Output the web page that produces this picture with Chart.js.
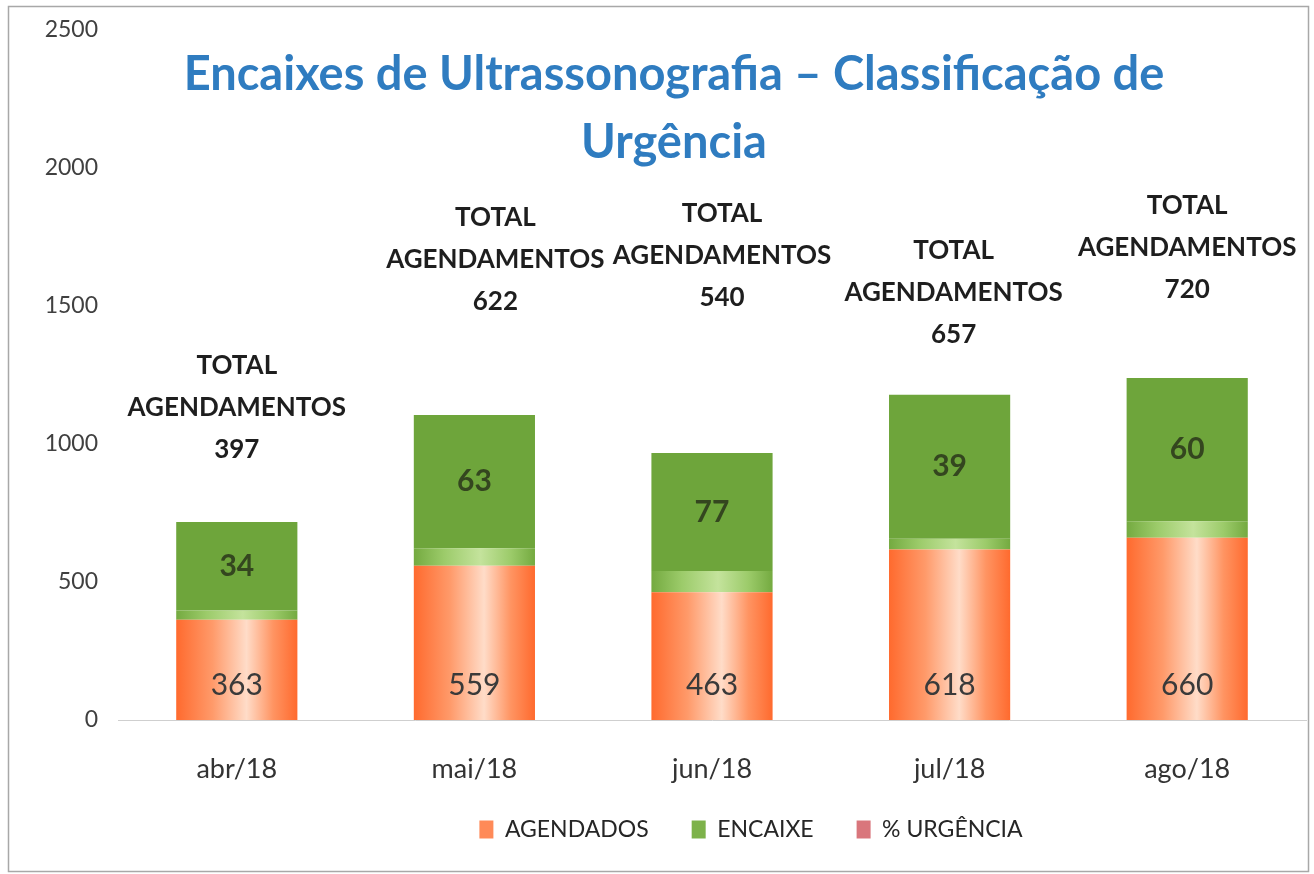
<!DOCTYPE html>
<html>
<head>
<meta charset="utf-8">
<script src="https://cdn.jsdelivr.net/npm/chart.js@4"></script>
<style>
  html, body { margin: 0; padding: 0; background: #fff; }
  #wrap { width: 1314px; height: 874px; }
</style>
</head>
<body>
<div id="wrap"><canvas id="ultra-chart"></canvas></div>
<script>
// data
const months = ["abr/18", "mai/18", "jun/18", "jul/18", "ago/18"];
const agendados = [363, 559, 463, 618, 660];
const encaixe = [34, 63, 77, 39, 60];
const urgencia = [320, 483, 427, 521, 519];   // upper green block
const yTicks = [0, 500, 1000, 1500, 2000, 2500];

// layout of the "TOTAL AGENDAMENTOS" labels (px above bar top, px sideways)
const totalGap = [72, 113, 155, 60, 88];
const totalShift = [0, 21, 10, 4, 0];

const BAR_PCT = 0.51;
const FONT = "Lato, 'Open Sans', sans-serif";

function barGradient(stops, solid) {
    return function (c) {
        if (c.type !== "data") return solid;
        const xs = c.chart.scales.x;
        if (!xs || !xs.width) return solid;
        const x = xs.getPixelForValue(c.dataIndex);
        const w = xs.width / months.length * BAR_PCT;
        const g = c.chart.ctx.createLinearGradient(x - w / 2, 0, x + w / 2, 0);
        stops.forEach(s => g.addColorStop(s[0], s[1]));
        return g;
    };
}

const orangeFill = barGradient([
    [0, "#ff6a2e"], [0.3, "#ff9a6a"], [0.58, "#ffdcc8"], [0.8, "#ff9462"], [1, "#ff6a2e"]
], "#ff7a40");
const bandFill = barGradient([
    [0, "#74aa40"], [0.25, "#9ccb6a"], [0.55, "#c4e39c"], [0.8, "#9ccb6a"], [1, "#74aa40"]
], "#8fc15a");

const swatches = ["#ff8a58", "#7db24a", "#d9767c"];

const labelsPlugin = {
    id: "labels",
    afterLayout(chart) {
        // legend in the original sits right of centre and a bit higher
        const lg = chart.legend;
        lg.left += 94;
        lg.right += 94;
        lg.top -= 13;
        lg.bottom -= 13;
    },
    beforeDraw(chart) {
        const ctx = chart.ctx;
        ctx.save();
        ctx.fillStyle = "#fff";
        ctx.fillRect(0, 0, chart.width, chart.height);
        ctx.strokeStyle = "#a8a8a8";
        ctx.lineWidth = 1.5;
        ctx.strokeRect(8.5, 6.5, 1300, 865);
        ctx.restore();
    },
    afterDatasetsDraw(chart) {
        const ctx = chart.ctx;
        const base = chart.getDatasetMeta(0).data;
        const top = chart.getDatasetMeta(2).data;
        ctx.save();
        ctx.textAlign = "center";
        ctx.textBaseline = "middle";
        base.forEach((el, i) => {
            ctx.font = "30px " + FONT;
            ctx.fillStyle = "#3a3a3a";
            ctx.fillText(agendados[i], el.x, el.base - 35);

            const t = top[i];
            ctx.font = "bold 30px " + FONT;
            ctx.fillStyle = "#34461f";
            ctx.fillText(encaixe[i], t.x, (t.y + t.base) / 2);

            const total = agendados[i] + encaixe[i];
            const cx = t.x + totalShift[i];
            const y3 = t.y - totalGap[i];
            ctx.font = "bold 26px " + FONT;
            ctx.fillStyle = "#1e1e1e";
            ctx.fillText("TOTAL", cx, y3 - 84);
            ctx.fillText("AGENDAMENTOS", cx, y3 - 42);
            ctx.fillText(total, cx, y3);
        });
        ctx.restore();
    },
    afterDraw(chart) {
        const ctx = chart.ctx;
        ctx.save();
        ctx.textAlign = "center";
        ctx.textBaseline = "middle";
        ctx.fillStyle = "#2f7cc0";
        ctx.font = "bold 47px " + FONT;
        ctx.fillText("Encaixes de Ultrassonografia \u2013 Classificação de", 674, 75);
        ctx.fillText("Urgência", 674, 143);
        ctx.restore();
    }
};

const ctx = document.getElementById("ultra-chart").getContext("2d");

new Chart(ctx, {
    type: "bar",
    data: {
        labels: months,
        datasets: [
            { label: "AGENDADOS", data: agendados, backgroundColor: orangeFill },
            { label: "ENCAIXE", data: encaixe, backgroundColor: bandFill },
            { label: "% URGÊNCIA", data: urgencia, backgroundColor: "#6ea53b" }
        ]
    },
    options: {
        responsive: true,
        maintainAspectRatio: false,
        animation: false,
        layout: { padding: { left: 8, right: 8, top: 30, bottom: 10 } },
        datasets: { bar: { categoryPercentage: 1, barPercentage: BAR_PCT } },
        plugins: {
            title: { display: false },
            tooltip: { enabled: false },
            legend: {
                position: "bottom",
                labels: {
                    font: { family: FONT, size: 23 },
                    color: "#262626",
                    boxWidth: 14,
                    boxHeight: 18,
                    padding: 43,
                    generateLabels(chart) {
                        return chart.data.datasets.map((d, i) => ({
                            text: d.label,
                            fillStyle: swatches[i],
                            strokeStyle: swatches[i],
                            lineWidth: 0,
                            datasetIndex: i,
                            fontColor: "#262626"
                        }));
                    }
                }
            }
        },
        scales: {
            x: {
                stacked: true,
                grid: { display: false },
                border: { color: "#cfcfcf" },
                ticks: { font: { family: FONT, size: 27 }, color: "#333", padding: 25 },
                afterFit(s) { s.height = 68; }
            },
            y: {
                stacked: true,
                min: 0,
                max: 2500,
                afterBuildTicks(s) { s.ticks = yTicks.map(v => ({ value: v })); },
                grid: { display: false },
                border: { display: false },
                ticks: {
                    font: { family: FONT, size: 23 },
                    color: "#404040",
                    padding: 12,
                    callback: v => String(v)
                },
                afterFit(s) { s.width = 110; }
            }
        }
    },
    plugins: [labelsPlugin]
});
</script>
</body>
</html>
